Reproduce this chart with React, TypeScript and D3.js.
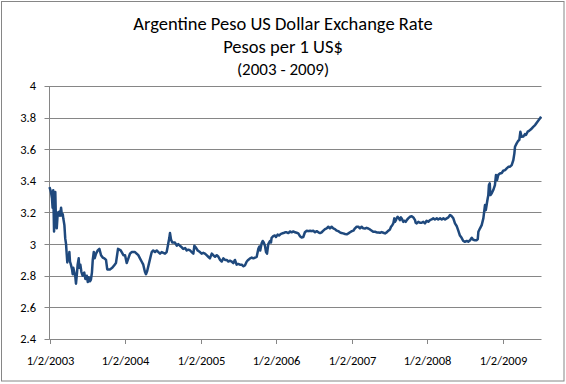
import React from "react";
import * as d3 from "d3";

const titleLines = ["Argentine Peso US Dollar Exchange Rate", "Pesos per 1 US$", "(2003 - 2009)"];
const yTicks = [2.4, 2.6, 2.8, 3, 3.2, 3.4, 3.6, 3.8, 4];
const xTickDates = ["2003-01-02", "2004-01-02", "2005-01-02", "2006-01-02", "2007-01-02", "2008-01-02", "2009-01-02"];
const xTickLabels = ["1/2/2003", "1/2/2004", "1/2/2005", "1/2/2006", "1/2/2007", "1/2/2008", "1/2/2009"];
const xDomainEnd = "2009-07-06";

const rate2003: [string, number][] = [
  ["2003-01-02", 3.36], ["2003-01-09", 3.33], ["2003-01-14", 3.29], ["2003-01-17", 3.23], ["2003-01-20", 3.34],
  ["2003-01-24", 3.08], ["2003-01-27", 3.18], ["2003-01-30", 3.33], ["2003-02-02", 3.16], ["2003-02-06", 3.10],
  ["2003-02-11", 3.20], ["2003-02-15", 3.18], ["2003-02-18", 3.205], ["2003-02-22", 3.18], ["2003-02-27", 3.23],
  ["2003-03-03", 3.18], ["2003-03-07", 3.19], ["2003-03-10", 3.16], ["2003-03-15", 3.12], ["2003-03-19", 3.036],
  ["2003-03-23", 3.00], ["2003-03-26", 2.94], ["2003-03-29", 2.884], ["2003-04-01", 2.93], ["2003-04-05", 2.90],
  ["2003-04-08", 2.95], ["2003-04-11", 2.89], ["2003-04-16", 2.867], ["2003-04-21", 2.84], ["2003-04-24", 2.81],
  ["2003-04-27", 2.85], ["2003-05-02", 2.82], ["2003-05-07", 2.79], ["2003-05-10", 2.75], ["2003-05-15", 2.82],
  ["2003-05-18", 2.87], ["2003-05-23", 2.91], ["2003-05-26", 2.85], ["2003-05-31", 2.87], ["2003-06-05", 2.825],
  ["2003-06-11", 2.80], ["2003-06-19", 2.82], ["2003-06-24", 2.78], ["2003-07-01", 2.80], ["2003-07-06", 2.76],
  ["2003-07-10", 2.79], ["2003-07-17", 2.765], ["2003-07-21", 2.775], ["2003-07-26", 2.82], ["2003-07-30", 2.90],
  ["2003-08-04", 2.95], ["2003-08-08", 2.91], ["2003-08-15", 2.94], ["2003-08-23", 2.96], ["2003-08-31", 2.97],
  ["2003-09-08", 2.93], ["2003-09-16", 2.915], ["2003-09-24", 2.91], ["2003-10-02", 2.90], ["2003-10-08", 2.84],
  ["2003-10-21", 2.84], ["2003-11-01", 2.85], ["2003-11-13", 2.87], ["2003-11-19", 2.88], ["2003-11-29", 2.97],
  ["2003-12-12", 2.96], ["2003-12-25", 2.93],
];

const rate2004: [string, number][] = [
  ["2004-01-02", 2.93], ["2004-01-10", 2.88], ["2004-01-18", 2.91], ["2004-01-26", 2.94], ["2004-02-03", 2.95],
  ["2004-02-19", 2.95], ["2004-03-06", 2.93], ["2004-03-14", 2.91], ["2004-03-22", 2.89], ["2004-03-30", 2.87],
  ["2004-04-07", 2.825], ["2004-04-12", 2.81], ["2004-04-18", 2.83], ["2004-04-27", 2.88], ["2004-05-06", 2.93],
  ["2004-05-10", 2.95], ["2004-05-17", 2.96], ["2004-05-26", 2.95], ["2004-06-03", 2.96], ["2004-06-11", 2.95],
  ["2004-06-19", 2.94], ["2004-06-27", 2.95], ["2004-07-05", 2.945], ["2004-07-13", 2.94], ["2004-07-21", 2.95],
  ["2004-07-29", 3.005], ["2004-08-03", 3.04], ["2004-08-06", 3.07], ["2004-08-11", 3.03], ["2004-08-17", 3.01],
  ["2004-08-30", 3.01], ["2004-09-08", 2.99], ["2004-09-15", 3.00], ["2004-09-23", 2.99], ["2004-10-02", 2.98],
  ["2004-10-09", 2.97], ["2004-10-18", 2.975], ["2004-10-26", 2.96], ["2004-11-03", 2.965], ["2004-11-11", 2.96],
  ["2004-11-19", 2.95], ["2004-11-27", 2.94], ["2004-12-02", 2.99], ["2004-12-08", 2.98], ["2004-12-18", 2.96],
  ["2004-12-29", 2.95],
];

const rate2005: [string, number][] = [
  ["2005-01-06", 2.94], ["2005-01-14", 2.945], ["2005-01-22", 2.94], ["2005-01-30", 2.93], ["2005-02-07", 2.92],
  ["2005-02-15", 2.91], ["2005-02-24", 2.94], ["2005-03-03", 2.93], ["2005-03-12", 2.92], ["2005-03-20", 2.93],
  ["2005-03-28", 2.92], ["2005-04-05", 2.90], ["2005-04-13", 2.89], ["2005-04-21", 2.91], ["2005-04-29", 2.90],
  ["2005-05-07", 2.90], ["2005-05-15", 2.89], ["2005-05-23", 2.895], ["2005-05-31", 2.89], ["2005-06-08", 2.88],
  ["2005-06-16", 2.90], ["2005-06-24", 2.87], ["2005-07-02", 2.875], ["2005-07-10", 2.87], ["2005-07-19", 2.87],
  ["2005-07-26", 2.86], ["2005-08-03", 2.865], ["2005-08-12", 2.89], ["2005-08-19", 2.90], ["2005-08-28", 2.91],
  ["2005-09-05", 2.915], ["2005-09-13", 2.91], ["2005-09-21", 2.915], ["2005-09-29", 2.92], ["2005-10-07", 2.97],
  ["2005-10-12", 2.985], ["2005-10-16", 2.96], ["2005-10-23", 3.005], ["2005-10-28", 3.02], ["2005-11-02", 3.01],
  ["2005-11-08", 2.99], ["2005-11-13", 2.95], ["2005-11-18", 2.94], ["2005-11-24", 3.00], ["2005-12-02", 3.02],
  ["2005-12-07", 3.01], ["2005-12-10", 3.04], ["2005-12-18", 3.05], ["2005-12-26", 3.055], ["2005-12-31", 3.045],
];

const rate2006: [string, number][] = [
  ["2006-01-08", 3.06], ["2006-01-15", 3.055], ["2006-01-24", 3.065], ["2006-02-05", 3.07], ["2006-02-13", 3.075],
  ["2006-02-21", 3.075], ["2006-03-01", 3.07], ["2006-03-09", 3.08], ["2006-03-17", 3.075], ["2006-03-25", 3.08],
  ["2006-04-02", 3.075], ["2006-04-10", 3.072], ["2006-04-18", 3.068], ["2006-04-26", 3.05], ["2006-05-04", 3.042],
  ["2006-05-12", 3.045], ["2006-05-20", 3.075], ["2006-05-29", 3.085], ["2006-06-05", 3.082], ["2006-06-14", 3.085],
  ["2006-06-22", 3.082], ["2006-06-29", 3.085], ["2006-07-08", 3.075], ["2006-07-16", 3.082], ["2006-07-24", 3.075],
  ["2006-08-01", 3.07], ["2006-08-09", 3.075], ["2006-08-17", 3.085], ["2006-08-25", 3.095], ["2006-09-02", 3.10],
  ["2006-09-10", 3.11], ["2006-09-18", 3.10], ["2006-09-26", 3.11], ["2006-10-04", 3.10], ["2006-10-12", 3.095],
  ["2006-10-21", 3.085], ["2006-10-28", 3.082], ["2006-11-05", 3.075], ["2006-11-13", 3.07], ["2006-11-21", 3.068],
  ["2006-11-30", 3.064], ["2006-12-08", 3.062], ["2006-12-16", 3.068], ["2006-12-24", 3.075],
];

const rate2007: [string, number][] = [
  ["2007-01-02", 3.082], ["2007-01-09", 3.085], ["2007-01-17", 3.10], ["2007-01-25", 3.11], ["2007-02-02", 3.11],
  ["2007-02-10", 3.10], ["2007-02-18", 3.11], ["2007-02-26", 3.10], ["2007-03-06", 3.099], ["2007-03-14", 3.103],
  ["2007-03-22", 3.099], ["2007-03-30", 3.093], ["2007-04-08", 3.085], ["2007-04-15", 3.078], ["2007-04-24", 3.078],
  ["2007-05-02", 3.074], ["2007-05-10", 3.074], ["2007-05-18", 3.072], ["2007-05-26", 3.076], ["2007-06-03", 3.072],
  ["2007-06-11", 3.068], ["2007-06-19", 3.074], ["2007-06-27", 3.085], ["2007-07-05", 3.093], ["2007-07-10", 3.11],
  ["2007-07-16", 3.12], ["2007-07-21", 3.131], ["2007-07-26", 3.163], ["2007-07-29", 3.141], ["2007-08-03", 3.152],
  ["2007-08-06", 3.163], ["2007-08-11", 3.173], ["2007-08-17", 3.163], ["2007-08-22", 3.152], ["2007-08-27", 3.169],
  ["2007-09-02", 3.156], ["2007-09-07", 3.141], ["2007-09-12", 3.148], ["2007-09-19", 3.141], ["2007-09-24", 3.152],
  ["2007-10-01", 3.163], ["2007-10-10", 3.173], ["2007-10-18", 3.177], ["2007-10-26", 3.169], ["2007-11-03", 3.152],
  ["2007-11-06", 3.135], ["2007-11-11", 3.131], ["2007-11-19", 3.141], ["2007-11-27", 3.135], ["2007-12-05", 3.135],
  ["2007-12-13", 3.141], ["2007-12-21", 3.131], ["2007-12-29", 3.148],
];

const rate2008: [string, number][] = [
  ["2008-01-06", 3.141], ["2008-01-14", 3.152], ["2008-01-22", 3.156], ["2008-01-30", 3.163], ["2008-02-07", 3.156],
  ["2008-02-16", 3.163], ["2008-02-23", 3.156], ["2008-03-03", 3.163], ["2008-03-11", 3.156], ["2008-03-19", 3.163],
  ["2008-03-27", 3.156], ["2008-04-04", 3.163], ["2008-04-12", 3.169], ["2008-04-20", 3.184], ["2008-04-28", 3.177],
  ["2008-05-06", 3.163], ["2008-05-14", 3.131], ["2008-05-22", 3.115], ["2008-05-30", 3.085], ["2008-06-07", 3.054],
  ["2008-06-15", 3.04], ["2008-06-23", 3.02], ["2008-07-01", 3.015], ["2008-07-10", 3.02], ["2008-07-17", 3.015],
  ["2008-07-26", 3.025], ["2008-08-03", 3.04], ["2008-08-10", 3.028], ["2008-08-19", 3.025], ["2008-08-27", 3.025],
  ["2008-09-01", 3.032], ["2008-09-04", 3.078], ["2008-09-12", 3.10], ["2008-09-20", 3.12], ["2008-09-28", 3.163],
  ["2008-10-03", 3.215], ["2008-10-06", 3.247], ["2008-10-10", 3.215], ["2008-10-15", 3.257], ["2008-10-19", 3.289],
  ["2008-10-22", 3.31], ["2008-10-25", 3.373], ["2008-10-29", 3.384], ["2008-11-01", 3.31], ["2008-11-07", 3.32],
  ["2008-11-15", 3.342], ["2008-11-23", 3.373], ["2008-11-28", 3.437], ["2008-12-03", 3.405], ["2008-12-09", 3.437],
  ["2008-12-17", 3.447], ["2008-12-26", 3.45],
];

const rate2009: [string, number][] = [
  ["2009-01-02", 3.464], ["2009-01-11", 3.468], ["2009-01-19", 3.479], ["2009-01-27", 3.489], ["2009-02-04", 3.49],
  ["2009-02-12", 3.50], ["2009-02-20", 3.532], ["2009-02-25", 3.574], ["2009-02-28", 3.616], ["2009-03-08", 3.637],
  ["2009-03-16", 3.654], ["2009-03-21", 3.66], ["2009-03-26", 3.711], ["2009-04-01", 3.679], ["2009-04-09", 3.68],
  ["2009-04-17", 3.696], ["2009-04-22", 3.69], ["2009-04-30", 3.711], ["2009-05-07", 3.716], ["2009-05-16", 3.726],
  ["2009-05-27", 3.742], ["2009-06-05", 3.753], ["2009-06-13", 3.768], ["2009-06-20", 3.78], ["2009-06-29", 3.796],
  ["2009-07-04", 3.806],
];

const W = 566;
const H = 384;
const plot = { left: 49.5, right: 541.5, top: 86, bottom: 339 };
const FONT = "Carlito, Calibri, Lato, 'Liberation Sans', sans-serif";
const GRID = "#868686";
const LINE = "#1F497D";

const parseDate = d3.timeParse("%Y-%m-%d");

export default function App() {
  const series = [...rate2003, ...rate2004, ...rate2005, ...rate2006, ...rate2007, ...rate2008, ...rate2009].map(
    ([d, v]) => ({ date: parseDate(d) as Date, value: v })
  );

  const x = d3
    .scaleTime()
    .domain([parseDate(xTickDates[0]) as Date, parseDate(xDomainEnd) as Date])
    .range([plot.left, plot.right]);
  const y = d3.scaleLinear().domain([2.4, 4]).range([plot.bottom, plot.top]);

  const line = d3
    .line<{ date: Date; value: number }>()
    .x((d) => x(d.date))
    .y((d) => y(d.value));

  return (
    <svg
      width={W}
      height={H}
      style={{ position: "absolute", left: 0, top: 0, background: "#fff" }}
      fontFamily={FONT}
    >
      <rect x={0} y={0} width={W} height={H} fill="#fff" />
      <rect x={1.5} y={1.5} width={562.5} height={379.5} fill="#fff" stroke={GRID} strokeWidth={1} />

      {titleLines.map((t, i) => (
        <text
          key={t}
          x={W / 2}
          y={[29.5, 52.5, 74.5][i]}
          textAnchor="middle"
          fontSize={i === 2 ? 17 : 18.5}
          fill="#000"
        >
          {t}
        </text>
      ))}

      {yTicks.map((t) => (
        <g key={t}>
          {t !== 2.4 && (
            <line x1={plot.left} x2={plot.right} y1={Math.round(y(t)) + 0.5} y2={Math.round(y(t)) + 0.5} stroke={GRID} strokeWidth={1} />
          )}
          <line x1={plot.left - 5} x2={plot.left} y1={Math.round(y(t)) + 0.5} y2={Math.round(y(t)) + 0.5} stroke={GRID} strokeWidth={1} />
          <text x={36} y={y(t)} dy="0.35em" textAnchor="end" fontSize={12.5} fill="#000">
            {String(t)}
          </text>
        </g>
      ))}

      <line x1={plot.left} x2={plot.left} y1={plot.top} y2={plot.bottom + 0.5} stroke={GRID} strokeWidth={1} />
      <line x1={plot.left} x2={plot.right} y1={plot.bottom + 0.5} y2={plot.bottom + 0.5} stroke={GRID} strokeWidth={1} />

      {xTickDates.map((d, i) => {
        const px = Math.round(x(parseDate(d) as Date)) + 0.5;
        return (
          <g key={d}>
            <line x1={px} x2={px} y1={plot.bottom} y2={plot.bottom + 5} stroke={GRID} strokeWidth={1} />
            <text x={px} y={365} textAnchor="middle" fontSize={12.5} fill="#000">
              {xTickLabels[i]}
            </text>
          </g>
        );
      })}

      <path d={line(series) ?? ""} fill="none" stroke={LINE} strokeWidth={2.5} strokeLinejoin="round" />
    </svg>
  );
}
